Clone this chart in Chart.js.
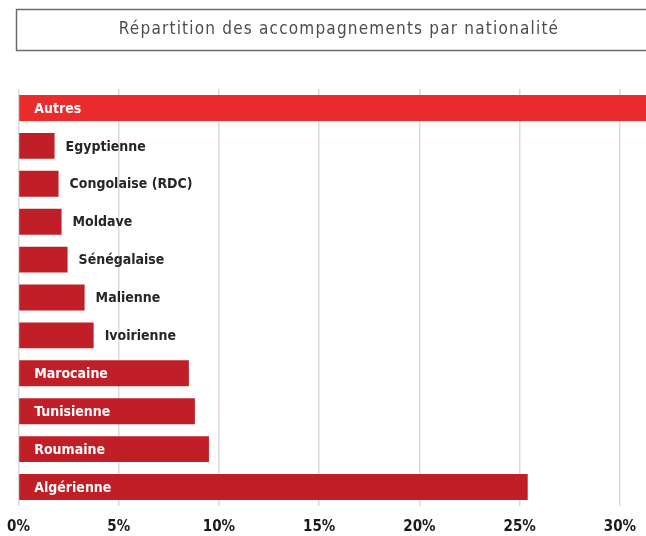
<!DOCTYPE html>
<html>
<head>
<meta charset="utf-8">
<script src="https://cdn.jsdelivr.net/npm/chart.js@4/dist/chart.umd.min.js"></script>
<style>
html,body{margin:0;padding:0;background:#fff;}
#wrap{width:646px;height:536px;position:relative;}
</style>
</head>
<body>
<div id="wrap"><canvas id="c" width="646" height="536"></canvas></div>
<script>
const titleText = "Répartition des accompagnements par nationalité";
const categories = ["Autres","Egyptienne","Congolaise (RDC)","Moldave","Sénégalaise","Malienne","Ivoirienne","Marocaine","Tunisienne","Roumaine","Algérienne"];
const values = [33, 1.8, 2.0, 2.15, 2.45, 3.3, 3.75, 8.5, 8.8, 9.5, 25.4];
const barColors = ["#EC2B2C","#C01F27","#C01F27","#C01F27","#C01F27","#C01F27","#C01F27","#C01F27","#C01F27","#C01F27","#C01F27"];
const xTicks = [0,5,10,15,20,25,30];
const xMax = 31.3;

const titleBox = {
  id: 'titleBox',
  afterDraw(chart) {
    const ctx = chart.ctx;
    ctx.save();
    ctx.strokeStyle = '#6b6b6b';
    ctx.lineWidth = 1.5;
    ctx.strokeRect(16.5, 9.5, 680, 41);
    ctx.font = '17px "DejaVu Sans Condensed", "DejaVu Sans", sans-serif';
    if ('letterSpacing' in ctx) ctx.letterSpacing = '1.2px';
    ctx.fillStyle = '#4d4d4d';
    ctx.textAlign = 'center';
    ctx.textBaseline = 'middle';
    ctx.fillText(titleText, 339, 30);
    ctx.restore();
  }
};

const barLabels = {
  id: 'barLabels',
  afterDatasetsDraw(chart) {
    const ctx = chart.ctx;
    const meta = chart.getDatasetMeta(0);
    ctx.save();
    ctx.font = 'bold 14px "DejaVu Sans Condensed", "DejaVu Sans", sans-serif';
    ctx.textBaseline = 'middle';
    ctx.textAlign = 'left';
    meta.data.forEach((bar, i) => {
      const v = values[i];
      if (v > 5) {
        ctx.fillStyle = '#ffffff';
        ctx.fillText(categories[i], bar.base + 15, bar.y + 1);
      } else {
        ctx.fillStyle = '#262626';
        ctx.fillText(categories[i], bar.x + 11, bar.y + 1);
      }
    });
    ctx.restore();
  }
};

new Chart(document.getElementById('c'), {
  type: 'bar',
  data: {
    labels: categories,
    datasets: [{
      data: values,
      backgroundColor: barColors,
      borderWidth: 0,
      barPercentage: 0.72,
      categoryPercentage: 0.95
    }]
  },
  options: {
    indexAxis: 'y',
    responsive: false,
    animation: false,
    layout: { padding: { left: 15, right: 0, top: 89, bottom: -7 } },
    plugins: {
      legend: { display: false },
      tooltip: { enabled: false },
      title: { display: false }
    },
    scales: {
      x: {
        min: 0,
        max: xMax,
        afterBuildTicks(scale) {
          scale.ticks = xTicks.map(v => ({ value: v }));
        },
        grid: { color: '#d9dadc', lineWidth: 1.5, drawTicks: true, tickLength: 5, tickColor: 'rgba(0,0,0,0)' },
        border: { display: false },
        ticks: {
          padding: 7,
          color: '#1a1a1a',
          font: { family: '"DejaVu Sans Condensed", "DejaVu Sans", sans-serif', size: 15, weight: 'bold' },
          callback: (v) => v + '%'
        }
      },
      y: {
        display: false,
        grid: { display: false }
      }
    }
  },
  plugins: [titleBox, barLabels]
});
</script>
</body>
</html>
